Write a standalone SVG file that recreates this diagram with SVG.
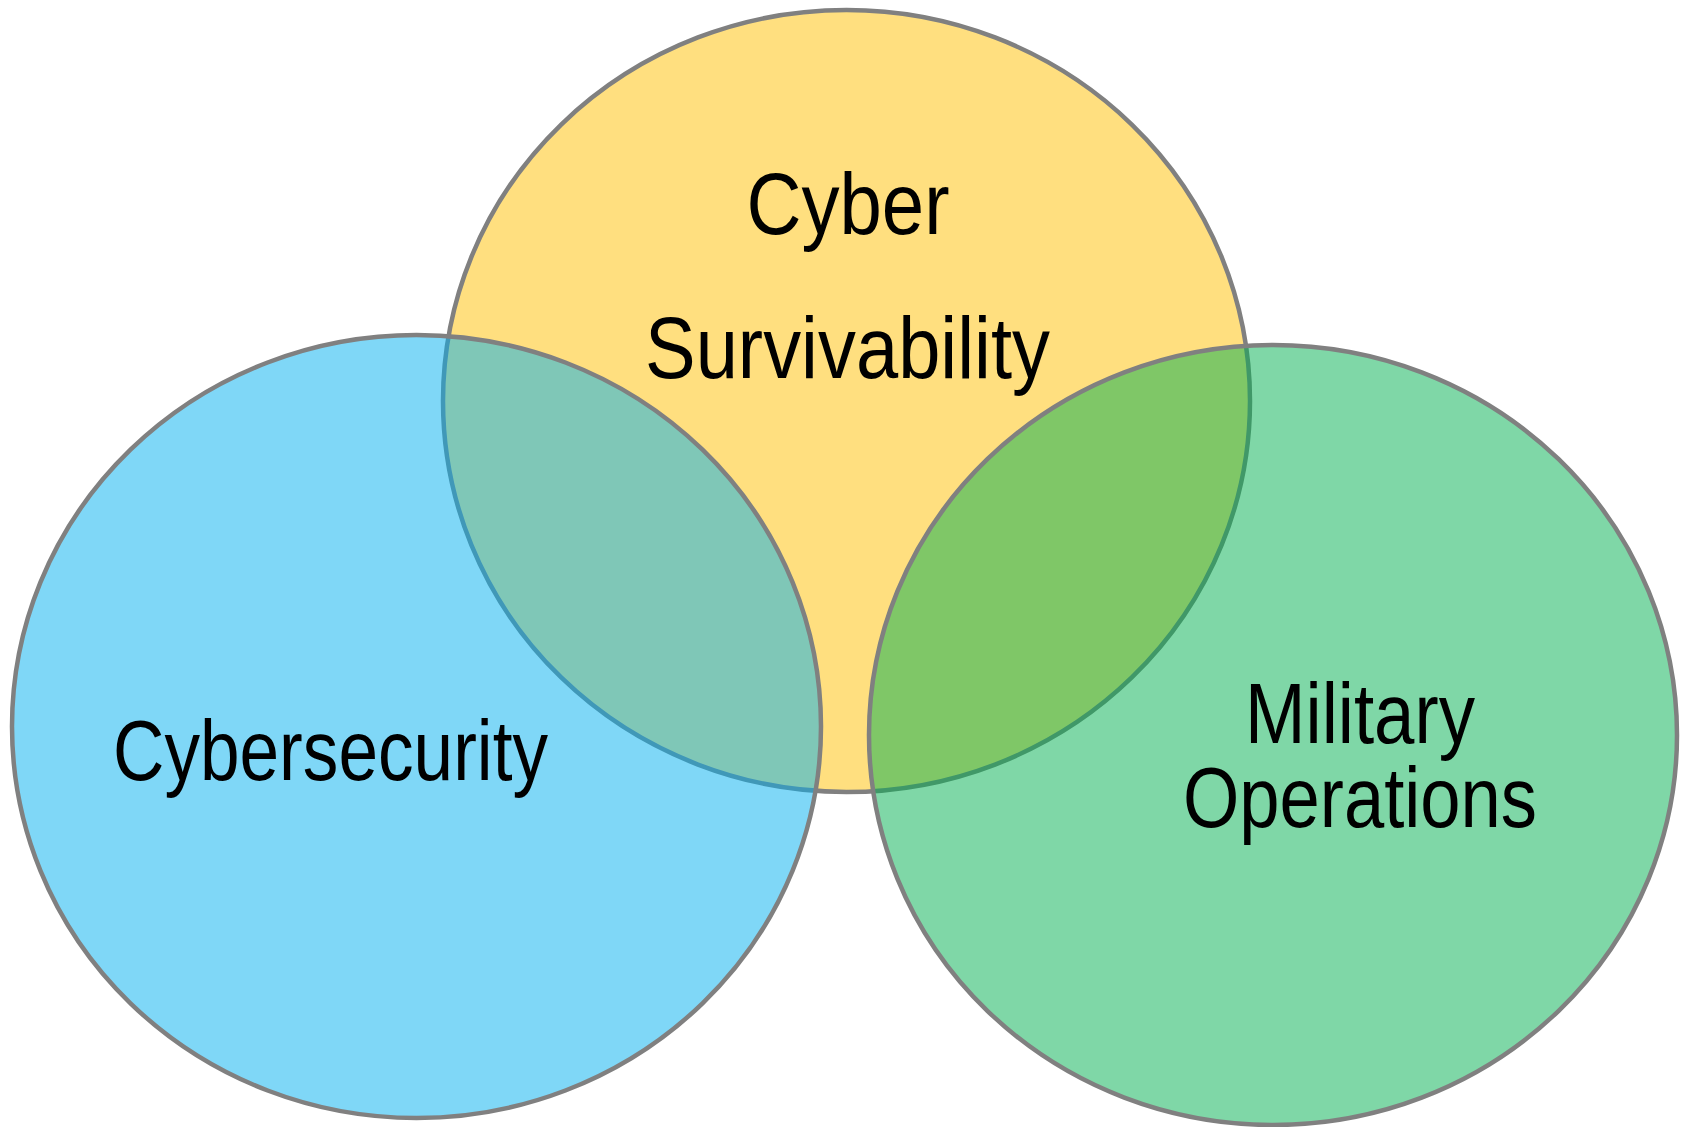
<svg xmlns="http://www.w3.org/2000/svg" width="1690" height="1127" viewBox="0 0 1690 1127">
<style>
.c{stroke:#808080;stroke-width:4.5;fill-opacity:0.5}
.t{font-family:"Liberation Sans",Arial,sans-serif;font-size:87px;fill:#000;text-anchor:middle}
.s{font-size:85px}
</style>
<rect width="1690" height="1127" fill="#ffffff"/>
<g id="cyber-survivability">
<ellipse class="c" cx="846.5" cy="401" rx="403.5" ry="391" fill="#FFC000"/>
</g>
<g id="cybersecurity">
<ellipse class="c" cx="416.5" cy="726.5" rx="404.5" ry="391.5" fill="#00B0F0"/>
</g>
<g id="military-operations">
<ellipse class="c" cx="1273" cy="735" rx="404" ry="390" fill="#00B050"/>
</g>
<g id="labels">
<text class="t" x="848" y="234" textLength="203" lengthAdjust="spacingAndGlyphs">Cyber</text>
<text class="t" x="847.5" y="378" textLength="405" lengthAdjust="spacingAndGlyphs">Survivability</text>
<text class="t s" x="330.5" y="780" textLength="435" lengthAdjust="spacingAndGlyphs">Cybersecurity</text>
<text class="t s" x="1360" y="743" textLength="230" lengthAdjust="spacingAndGlyphs">Military</text>
<text class="t s" x="1360" y="827" textLength="354" lengthAdjust="spacingAndGlyphs">Operations</text>
</g>
<g id="connectors"/>
</svg>
